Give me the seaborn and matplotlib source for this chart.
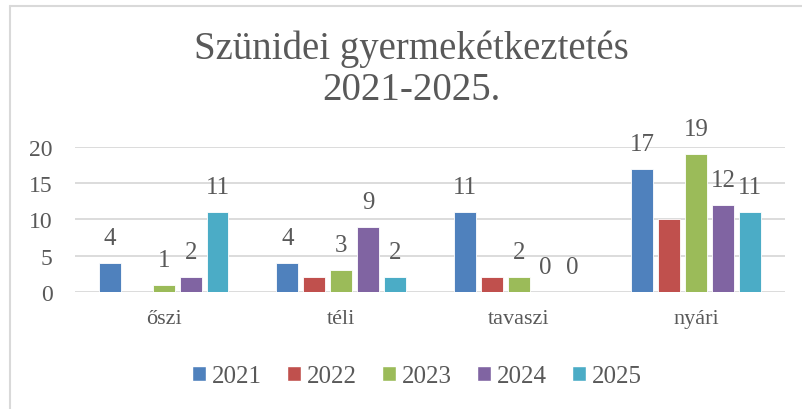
import numpy as np
import pandas as pd
import matplotlib
matplotlib.use('Agg')
import matplotlib.pyplot as plt
import seaborn as sns
from matplotlib.patches import Patch
from matplotlib.lines import Line2D

# Adatok
kategoriak = ['őszi', 'téli', 'tavaszi', 'nyári']
evek = ['2021', '2022', '2023', '2024', '2025']
ertekek_2021 = [4, 4, 11, 17]
ertekek_2022 = [np.nan, 2, 2, 10]
ertekek_2023 = [1, 3, 2, 19]
ertekek_2024 = [2, 9, 0, 12]
ertekek_2025 = [11, 2, 0, 11]
cimkezett_evek = ['2021', '2023', '2024', '2025']  # 2022-nek nincs felirata

szinek = ['#4F81BD', '#C0504D', '#9BBB59', '#8064A2', '#4BACC6']
szurke = '#595959'

sorok = []
for ev, vals in zip(evek, [ertekek_2021, ertekek_2022, ertekek_2023, ertekek_2024, ertekek_2025]):
    for kat, v in zip(kategoriak, vals):
        sorok.append({'kategoria': kat, 'ev': ev, 'ertek': v})
df = pd.DataFrame(sorok).dropna()

sns.set_style('white')
plt.rcParams['font.family'] = ['Liberation Serif', 'DejaVu Serif']

fig = plt.figure(figsize=(8.02, 4.10), dpi=100)
ax = fig.add_axes([0.0935, 0.2854, 0.8853, 0.3537])

sns.barplot(data=df, x='kategoria', y='ertek', hue='ev', order=kategoriak,
            hue_order=evek, palette=szinek, width=0.76, gap=0.2,
            edgecolor='white', linewidth=0.6, saturation=1, legend=False, ax=ax)

ax.set_ylim(0, 20)
ax.set_yticks([0, 5, 10, 15, 20])
ax.yaxis.grid(True, color='#D9D9D9', linewidth=1.3)
ax.set_axisbelow(True)
for s in ax.spines.values():
    s.set_visible(False)
ax.tick_params(axis='both', length=0, labelcolor=szurke)
ax.tick_params(axis='y', pad=16, labelsize=17)
ax.tick_params(axis='x', pad=12, labelsize=16)
ax.set_xlabel('')
ax.set_ylabel('')

# Feliratok
for ev, kont in zip(df['ev'].unique(), ax.containers):
    if ev not in cimkezett_evek:
        continue
    for bar in kont:
        h = bar.get_height()
        ax.annotate(f'{h:.0f}', (bar.get_x() + bar.get_width() / 2, h),
                    xytext=(0, 18), textcoords='offset points',
                    ha='center', va='center', fontsize=18, color=szurke,
                    annotation_clip=False)

fig.text(0.513, 0.83, 'Szünidei gyermekétkeztetés\n2021-2025.', ha='center', va='center',
         fontsize=28, color=szurke, linespacing=1.15)

kezelok = [Patch(facecolor=c, label=e) for c, e in zip(szinek, evek)]
fig.legend(handles=kezelok, loc='center', bbox_to_anchor=(0.52, 0.08), ncol=5,
           frameon=False, fontsize=18, labelcolor=szurke, handlelength=0.55,
           handleheight=0.55, handletextpad=0.25, columnspacing=1.0)

# Keret
fig.add_artist(Line2D([10 / 802, 10 / 802], [0, 1 - 7 / 410], color='#D9D9D9', linewidth=1.5))
fig.add_artist(Line2D([10 / 802, 1], [1 - 7 / 410, 1 - 7 / 410], color='#D9D9D9', linewidth=1.5))

fig.savefig('out.png', dpi=100)
